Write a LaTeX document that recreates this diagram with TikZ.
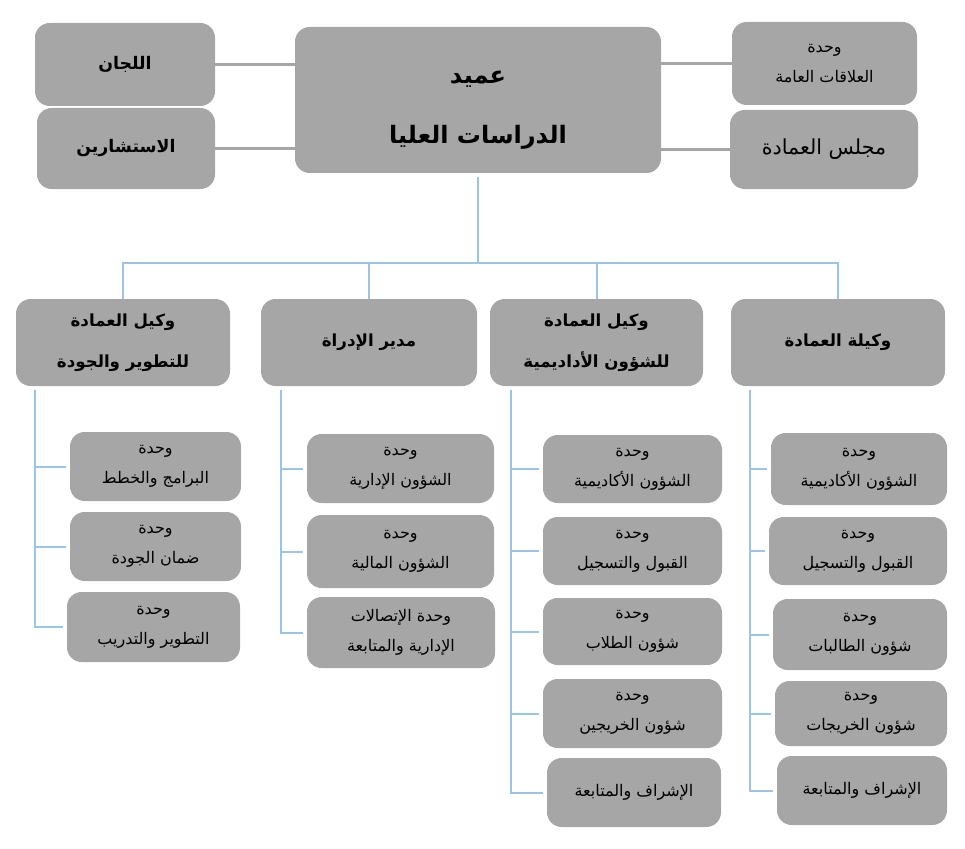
\documentclass[tikz,border=0pt]{standalone}
\usepackage{fontspec}
\usepackage{tikz}
\TeXXeTstate=1
\newfontfamily\arabicfont[Script=Arabic]{DejaVu Sans}
\newcommand{\ar}[1]{\beginR #1\endR}
\definecolor{boxgray}{RGB}{166, 166, 166}
\definecolor{lineblue}{RGB}{157, 195, 230}
\tikzset{box/.style = {fill=boxgray, rounded corners=11pt, align=center,
                       inner sep=0, font=\arabicfont}}
\tikzset{sz/.style 2 args = {minimum width=#1*0.75pt, minimum height=#2*0.75pt}}
\tikzset{unitbox/.style = {box, font=\arabicfont\fontsize{12}{22.5}\selectfont}}
\tikzset{headbox/.style = {box, font=\arabicfont\bfseries\fontsize{12.5}{30.5}\selectfont}}
\tikzset{side/.style = {draw=boxgray, line width=2pt}}
\tikzset{bus/.style = {draw=lineblue, line width=1.5pt}}
\tikzset{tree/.style = {draw=lineblue, line width=1.5pt, shorten >=3pt}}

\begin{document}
\begin{tikzpicture}[x=0.75pt, y=-0.75pt]
    \useasboundingbox (0, 0) rectangle (965, 849);

    % top row
    \node [box, sz={366}{146}, font=\arabicfont\bfseries\fontsize{18}{45}\selectfont]
          (dean) at (478, 100) {\rule{0pt}{24.5pt}\ar{عميد}\\\ar{الدراسات العليا}};
    \node [headbox, sz={180}{83}, font=\arabicfont\bfseries\fontsize{13}{30}\selectfont]
          (lijan) at (125, 64.5) {\ar{اللجان}};
    \node [headbox, sz={178}{81}, font=\arabicfont\bfseries\fontsize{13}{30}\selectfont]
          (mustash) at (126, 148.5) {\ar{الاستشارين}};
    \node [unitbox, sz={185}{83}] (alaqat) at (824.5, 63.5) {\ar{وحدة}\\\ar{العلاقات العامة}};
    \node [box, sz={188}{79}, font=\arabicfont\fontsize{15.5}{30}\selectfont]
          (majlis) at (824, 149.5) {\ar{مجلس العمادة}};

    \draw [side] (lijan.east) -- (lijan.east -| dean.west);
    \draw [side] (mustash.east) -- (mustash.east -| dean.west);
    \draw [side] (alaqat.west) -- (alaqat.west -| dean.east);
    \draw [side] (majlis.west) -- (majlis.west -| dean.east);

    % deputies
    \node [headbox, sz={214}{87}] (tatwir) at (123, 342.5) {\ar{وكيل العمادة}\\\ar{للتطوير والجودة}};
    \node [headbox, sz={216}{87}] (idara) at (369, 342.5) {\ar{مدير الإدراة}};
    \node [headbox, sz={213}{87}] (akad) at (596.5, 342.5) {\ar{وكيل العمادة}\\\ar{للشؤون الأداديمية}};
    \node [headbox, sz={214}{87}] (wakila) at (838, 342.5) {\ar{وكيلة العمادة}};

    \coordinate (hub) at (478, 262.5);
    \draw [bus] ([yshift=-3pt]dean.south) -- (hub);
    \foreach \n in {tatwir, idara, akad, wakila}
      \draw [bus] (hub) -| (\n.north);

    % units
    \node [unitbox, sz={171}{69}] (t1) at (155.5, 466.5) {\ar{وحدة}\\\ar{البرامج والخطط}};
    \node [unitbox, sz={171}{69}] (t2) at (155.5, 546.5) {\ar{وحدة}\\\ar{ضمان الجودة}};
    \node [unitbox, sz={173}{70}] (t3) at (153.5, 627) {\ar{وحدة}\\\ar{التطوير والتدريب}};

    \node [unitbox, sz={187}{69}] (i1) at (400.5, 468.5) {\ar{وحدة}\\\ar{الشؤون الإدارية}};
    \node [unitbox, sz={187}{73}] (i2) at (400.5, 551.5) {\ar{وحدة}\\\ar{الشؤون المالية}};
    \node [unitbox, sz={188}{71}] (i3) at (401, 632.5) {\ar{وحدة الإتصالات}\\\ar{الإدارية والمتابعة}};

    \node [unitbox, sz={179}{68}] (a1) at (632.5, 469) {\ar{وحدة}\\\ar{الشؤون الأكاديمية}};
    \node [unitbox, sz={179}{68}] (a2) at (632.5, 551) {\ar{وحدة}\\\ar{القبول والتسجيل}};
    \node [unitbox, sz={179}{67}] (a3) at (632.5, 631.5) {\ar{وحدة}\\\ar{شؤون الطلاب}};
    \node [unitbox, sz={179}{69}] (a4) at (632.5, 713.5) {\ar{وحدة}\\\ar{شؤون الخريجين}};
    \node [unitbox, sz={174}{69}] (a5) at (634, 792.5) {\ar{الإشراف والمتابعة}};

    \node [unitbox, sz={176}{72}] (w1) at (859, 469) {\ar{وحدة}\\\ar{الشؤون الأكاديمية}};
    \node [unitbox, sz={178}{68}] (w2) at (858, 551) {\ar{وحدة}\\\ar{القبول والتسجيل}};
    \node [unitbox, sz={174}{71}] (w3) at (860, 634.5) {\ar{وحدة}\\\ar{شؤون الطالبات}};
    \node [unitbox, sz={172}{65}] (w4) at (861, 713.5) {\ar{وحدة}\\\ar{شؤون الخريجات}};
    \node [unitbox, sz={170}{69}] (w5) at (862, 790.5) {\ar{الإشراف والمتابعة}};

    \coordinate (st) at (35, 390);
    \coordinate (si) at (281, 390);
    \coordinate (sa) at (511, 390);
    \coordinate (sw) at (750, 390);
    \foreach \u in {t1, t2, t3} \draw [tree] (st) |- (\u.west);
    \foreach \u in {i1, i2, i3} \draw [tree] (si) |- (\u.west);
    \foreach \u in {a1, a2, a3, a4, a5} \draw [tree] (sa) |- (\u.west);
    \foreach \u in {w1, w2, w3, w4, w5} \draw [tree] (sw) |- (\u.west);
  \end{tikzpicture}
\end{document}
